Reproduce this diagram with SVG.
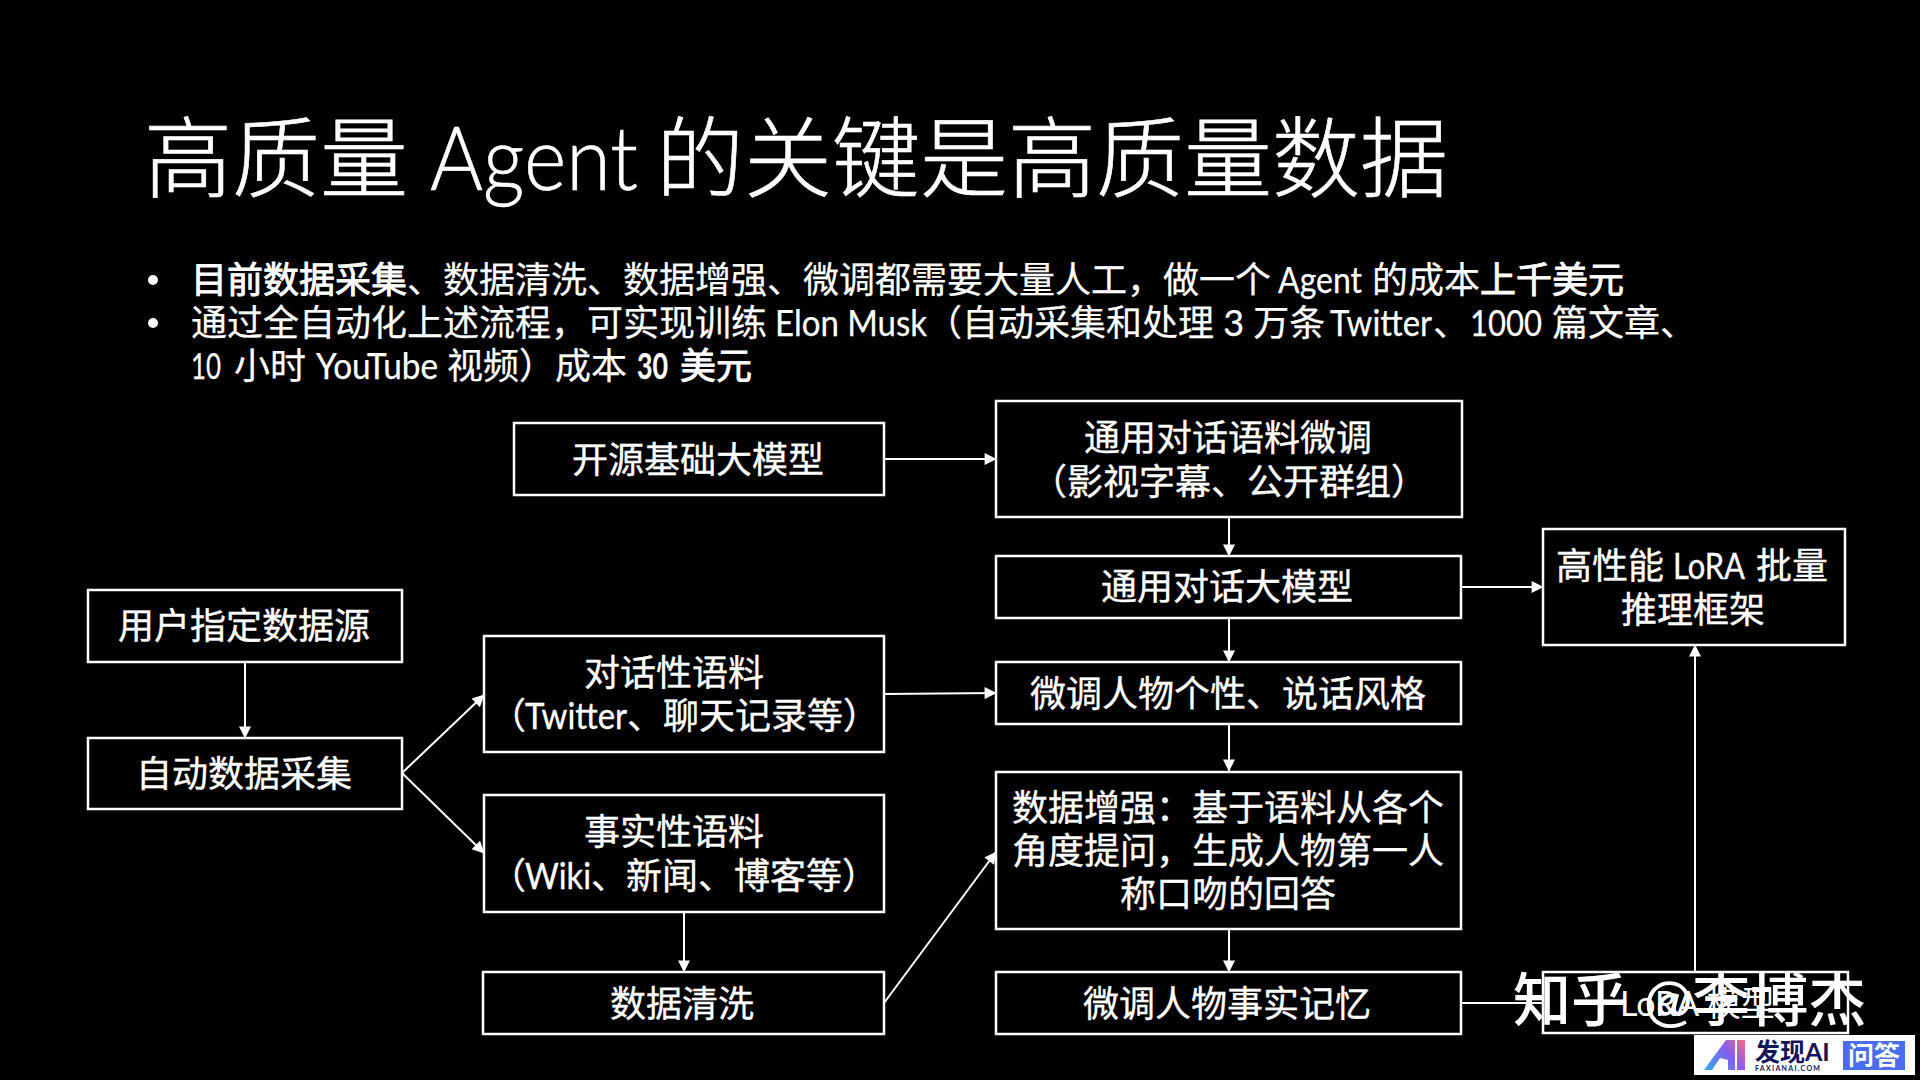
<svg xmlns="http://www.w3.org/2000/svg" width="1920" height="1080" viewBox="0 0 1920 1080">
<defs>
<style>
text{font-family:"Lato","Noto Sans CJK SC",sans-serif;fill:#fff}
.t{font-size:88px;font-weight:300;stroke:#fff;stroke-width:.6}
.b{font-size:36px;font-weight:400;stroke:#fff;stroke-width:.25}
.s{stroke-width:.9}
.ss{font-weight:700}
.n{font-size:36px;font-weight:400;text-anchor:middle;stroke:#fff;stroke-width:.35}
.box{fill:none;stroke:#fff;stroke-width:2.5}
.c{fill:none;stroke:#fff;stroke-width:2;marker-end:url(#a)}
.p{fill:none;stroke:#fff;stroke-width:2}
</style>
<marker id="a" viewBox="0 0 10 10" refX="9.5" refY="5" markerWidth="14" markerHeight="12" markerUnits="userSpaceOnUse" orient="auto"><path d="M0 0L10 5L0 10Z" fill="#fff"/></marker>
<linearGradient id="lg" gradientUnits="userSpaceOnUse" x1="1705" y1="1070" x2="1745" y2="1040"><stop offset="0" stop-color="#2fa8f5"/><stop offset=".6" stop-color="#8a5cf0"/><stop offset="1" stop-color="#f5707a"/></linearGradient>
</defs>
<rect width="1920" height="1080" fill="#000"/>
<text class="t" x="144" y="190">高质量 <tspan x="430" textLength="208" lengthAdjust="spacingAndGlyphs">Agent</tspan> <tspan x="656">的关键是高质量数据</tspan></text>
<g id="bullets">
<circle cx="153" cy="280" r="5" fill="#fff"/><circle cx="153" cy="323" r="5" fill="#fff"/>
<text class="b" x="191" y="293"><tspan class="s">目前数据采集</tspan>、数据清洗、数据增强、微调都需要大量人工，做一个 <tspan x="1278" textLength="84" lengthAdjust="spacingAndGlyphs">Agent</tspan> <tspan x="1372">的成本</tspan><tspan class="s">上千美元</tspan></text>
<text class="b" x="191" y="336">通过全自动化上述流程，可实现训练 <tspan x="775" textLength="152" lengthAdjust="spacingAndGlyphs">Elon Musk</tspan><tspan x="926">（自动采集和处理 3 万条 </tspan><tspan x="1330" textLength="102" lengthAdjust="spacingAndGlyphs">Twitter</tspan><tspan x="1433">、</tspan><tspan x="1470" textLength="72" lengthAdjust="spacingAndGlyphs">1000</tspan> <tspan x="1552">篇文章、</tspan></text>
<text class="b" x="191" y="379"><tspan textLength="30" lengthAdjust="spacingAndGlyphs">10</tspan> <tspan x="234">小时 </tspan><tspan x="316" textLength="122" lengthAdjust="spacingAndGlyphs">YouTube</tspan> <tspan x="447">视频）成本 </tspan><tspan class="ss" x="637" textLength="31" lengthAdjust="spacingAndGlyphs">30</tspan> <tspan class="s" x="680">美元</tspan></text>
</g>
<g id="connectors">
<path class="c" d="M884 459H996"/>
<path class="c" d="M1229 517V556"/>
<path class="c" d="M1461 587H1543"/>
<path class="c" d="M1229 618V662"/>
<path class="c" d="M884 694L996 693"/>
<path class="c" d="M1229 724V771"/>
<path class="c" d="M1229 929V972"/>
<path class="c" d="M245 662V738"/>
<path class="c" d="M402 773L484 695"/>
<path class="c" d="M402 773L484 853"/>
<path class="c" d="M684 912V972"/>
<path class="c" d="M884 1003L996 852"/>
<path class="c" d="M1695 972V645"/>
<path class="p" d="M1461 1003H1543"/>
</g>
<g id="n1"><rect class="box" x="514" y="423" width="370" height="72"/><text class="n" x="698" y="473">开源基础大模型</text></g>
<g id="n2"><rect class="box" x="996" y="401" width="466" height="116"/><text class="n" x="1228" y="451">通用对话语料微调</text><text class="n" x="1229" y="495">（影视字幕、公开群组）</text></g>
<g id="n3"><rect class="box" x="996" y="556" width="465" height="62"/><text class="n" x="1227" y="600">通用对话大模型</text></g>
<g id="n4"><rect class="box" x="1543" y="529" width="302" height="116"/><text class="n" x="1556" y="579" style="text-anchor:start">高性能 <tspan x="1673" textLength="71" lengthAdjust="spacingAndGlyphs">LoRA</tspan> <tspan x="1756">批量</tspan></text><text class="n" x="1693" y="623">推理框架</text></g>
<g id="n5"><rect class="box" x="88" y="590" width="314" height="72"/><text class="n" x="244" y="639">用户指定数据源</text></g>
<g id="n6"><rect class="box" x="88" y="738" width="314" height="71"/><text class="n" x="244" y="787">自动数据采集</text></g>
<g id="n7"><rect class="box" x="484" y="636" width="400" height="116"/><text class="n" x="674" y="686">对话性语料</text><text class="n" x="490" y="729" style="text-anchor:start">（<tspan x="525" textLength="102" lengthAdjust="spacingAndGlyphs">Twitter</tspan><tspan x="627">、</tspan><tspan x="663">聊天记录等）</tspan></text></g>
<g id="n8"><rect class="box" x="996" y="662" width="465" height="62"/><text class="n" x="1228" y="707">微调人物个性、说话风格</text></g>
<g id="n9"><rect class="box" x="484" y="795" width="400" height="117"/><text class="n" x="674" y="845">事实性语料</text><text class="n" x="490" y="889" style="text-anchor:start">（<tspan x="525" textLength="66" lengthAdjust="spacingAndGlyphs">Wiki</tspan><tspan x="591">、</tspan><tspan x="626">新闻</tspan><tspan x="698">、</tspan><tspan x="734">博客等）</tspan></text></g>
<g id="n10"><rect class="box" x="996" y="772" width="465" height="157"/><text class="n" x="1228" y="821">数据增强：基于语料从各个</text><text class="n" x="1228" y="864">角度提问，生成人物第一人</text><text class="n" x="1228" y="907">称口吻的回答</text></g>
<g id="n11"><rect class="box" x="483" y="972" width="401" height="62"/><text class="n" x="682" y="1017">数据清洗</text></g>
<g id="n12"><rect class="box" x="996" y="972" width="465" height="62"/><text class="n" x="1227" y="1017">微调人物事实记忆</text></g>
<g id="n13"><rect class="box" x="1543" y="972" width="305" height="61"/><text x="1620" y="1016" style="font-size:34px">LoRA 模型</text></g>
<g id="watermark">
<text x="1513" y="1021" style="font-size:58px;font-weight:500">知乎 @李博杰</text>
</g>
<g id="badge">
<rect x="1694" y="1035" width="221" height="40" fill="#fff"/>
<path d="M1704 1070L1726 1040H1735V1070H1728V1060L1720 1058L1712 1070Z" fill="url(#lg)"/>
<rect x="1737" y="1040" width="8" height="30" fill="url(#lg)"/>
<text x="1755" y="1061" style="font-size:25px;font-weight:700;fill:#14145a">发现AI</text>
<text x="1755" y="1070.5" style="font-size:7px;font-weight:700;fill:#14145a;letter-spacing:1.3px">FAXIANAI.COM</text>
<rect x="1843" y="1041" width="62" height="29" fill="#4a6cf0"/>
<text x="1874" y="1065" style="font-size:26px;font-weight:700;text-anchor:middle">问答</text>
</g>
</svg>
